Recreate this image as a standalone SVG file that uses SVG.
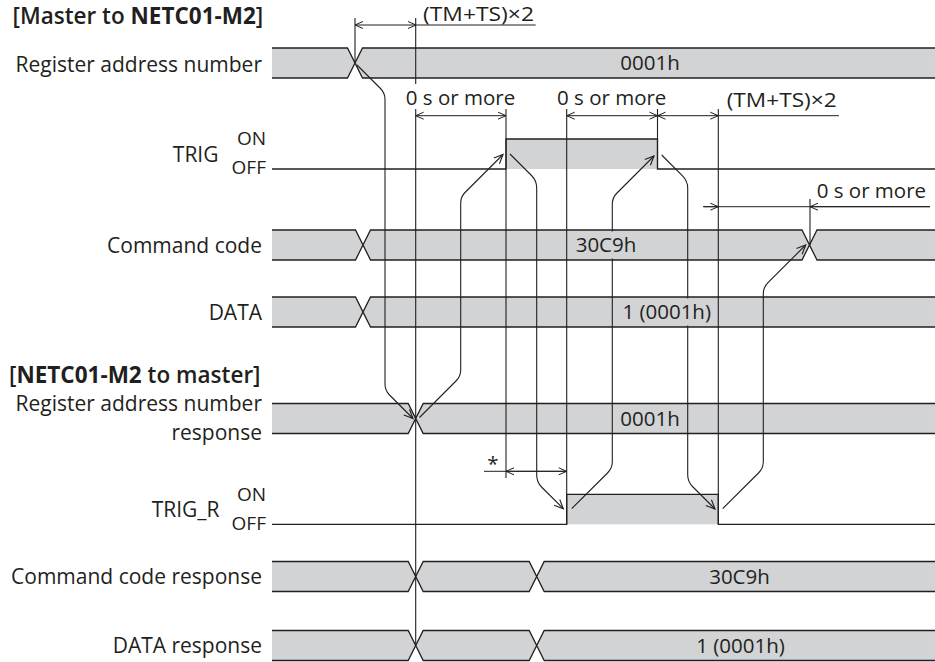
<svg xmlns="http://www.w3.org/2000/svg" width="935" height="662" viewBox="0 0 935 662">
<style>
text { font-family: "Open Sans", "Liberation Sans", sans-serif; fill: #231f20; font-size: 21px; }
.lbl { text-anchor: end; }
.mid { text-anchor: middle; }
.val { font-size: 20.5px; text-anchor: middle; }
.dl { font-size: 20.5px; }
.oo { font-size: 19px; text-anchor: end; }
.ttl { font-size: 22.5px; font-weight: 600; }
.b { font-weight: 700; }
.band { fill: #d1d3d4; stroke: none; }
.edge { fill: none; stroke: #231f20; stroke-width: 1.3; }
.vl { fill: none; stroke: #231f20; stroke-width: 1.1; }
.conn { fill: none; stroke: #231f20; stroke-width: 1.1; marker-end: url(#ah); }
.dim { fill: none; stroke: #231f20; stroke-width: 1; }
.dm2 { fill: none; stroke: #231f20; stroke-width: 1; marker-start: url(#dh); marker-end: url(#dh); }
.dme { fill: none; stroke: #231f20; stroke-width: 1; marker-end: url(#dh); }
.dms { fill: none; stroke: #231f20; stroke-width: 1; marker-start: url(#dh); }
.mask { fill: #d1d3d4; stroke: none; }
</style>
<defs>
<marker id="ah" markerUnits="userSpaceOnUse" orient="auto" overflow="visible" markerWidth="1" markerHeight="1" refX="0" refY="0">
<path d="M-9,-4 L0,0 L-9,4" fill="none" stroke="#231f20" stroke-width="1.1"/>
</marker>
<marker id="dh" markerUnits="userSpaceOnUse" orient="auto-start-reverse" overflow="visible" markerWidth="1" markerHeight="1" refX="0" refY="0">
<path d="M-8,-3.5 L0,0 L-8,3.5" fill="none" stroke="#231f20" stroke-width="1"/>
</marker>
</defs>

<text class="ttl" x="12.5" y="24">[Master to <tspan class="b">NETC01-M2</tspan>]</text>
<text class="ttl" x="9" y="383">[<tspan class="b">NETC01-M2</tspan> to master]</text>

<!-- signal rows -->
<g id="reg-addr">
<polygon class="band" points="272,48 347.5,48 355,63 347.5,78 272,78"/>
<polygon class="band" points="362.5,48 935,48 935,78 362.5,78 355,63"/>
<path class="edge" d="M272,48 H347.5 L362.5,78 H935 M272,78 H347.5 L362.5,48 H935"/>
<text class="lbl" x="262" y="71.5">Register address number</text>
</g>

<g id="trig">
<rect class="band" x="506" y="139" width="151.5" height="30"/>
<path class="edge" d="M272,169 H506 V139 H657.5 V169 H935"/>
<text class="lbl" x="218.5" y="161.7">TRIG</text>
<text class="oo" x="266" y="144.8">ON</text>
<text class="oo" x="266" y="174.3">OFF</text>
</g>

<g id="cmd-code">
<polygon class="band" points="272,230 355.5,230 363,245 355.5,260 272,260"/>
<polygon class="band" points="370.5,230 802,230 809.5,245 802,260 370.5,260 363,245"/>
<polygon class="band" points="817,230 935,230 935,260 817,260 809.5,245"/>
<path class="edge" d="M272,230 H355.5 L370.5,260 H802 L817,230 H935 M272,260 H355.5 L370.5,230 H802 L817,260 H935"/>
<text class="lbl" x="262" y="252.5">Command code</text>
</g>

<g id="data">
<polygon class="band" points="272,297 355.5,297 363,312 355.5,327 272,327"/>
<polygon class="band" points="370.5,297 935,297 935,327 370.5,327 363,312"/>
<path class="edge" d="M272,297 H355.5 L370.5,327 H935 M272,327 H355.5 L370.5,297 H935"/>
<text class="lbl" x="262" y="319.5">DATA</text>
</g>

<g id="reg-addr-resp">
<polygon class="band" points="272,403.5 408.2,403.5 415.7,418.5 408.2,433.5 272,433.5"/>
<polygon class="band" points="423.2,403.5 935,403.5 935,433.5 423.2,433.5 415.7,418.5"/>
<path class="edge" d="M272,403.5 H408.2 L423.2,433.5 H935 M272,433.5 H408.2 L423.2,403.5 H935"/>
<text class="lbl" x="262" y="411.3">Register address number</text>
<text class="lbl" x="262" y="440.3">response</text>
</g>

<g id="trig-r">
<rect class="band" x="566.7" y="494.3" width="151.6" height="30"/>
<path class="edge" d="M272,524.3 H566.7 V494.3 H718.3 V524.3 H935"/>
<text class="lbl" x="219.5" y="517.3">TRIG_R</text>
<text class="oo" x="266" y="500.7">ON</text>
<text class="oo" x="266" y="530">OFF</text>
</g>

<g id="cmd-code-resp">
<polygon class="band" points="272,561.5 408.2,561.5 415.7,576.5 408.2,591.5 272,591.5"/>
<polygon class="band" points="423.2,561.5 529.2,561.5 536.7,576.5 529.2,591.5 423.2,591.5 415.7,576.5"/>
<polygon class="band" points="544.2,561.5 935,561.5 935,591.5 544.2,591.5 536.7,576.5"/>
<path class="edge" d="M272,561.5 H408.2 L423.2,591.5 H529.2 L544.2,561.5 H935 M272,591.5 H408.2 L423.2,561.5 H529.2 L544.2,591.5 H935"/>
<text class="lbl" x="262" y="583.5">Command code response</text>
</g>

<g id="data-resp">
<polygon class="band" points="272,630.5 408.2,630.5 415.7,645.5 408.2,660.5 272,660.5"/>
<polygon class="band" points="423.2,630.5 529.2,630.5 536.7,645.5 529.2,660.5 423.2,660.5 415.7,645.5"/>
<polygon class="band" points="544.2,630.5 935,630.5 935,660.5 544.2,660.5 536.7,645.5"/>
<path class="edge" d="M272,630.5 H408.2 L423.2,660.5 H529.2 L544.2,630.5 H935 M272,660.5 H408.2 L423.2,630.5 H529.2 L544.2,660.5 H935"/>
<text class="lbl" x="262" y="652.5">DATA response</text>
</g>

<!-- connectors: timing reference lines, dimensions and cause arrows -->
<g id="connectors">
<path class="vl" d="M355,18 V63 M415.7,18 V84 M415.7,109 V645.5 M506,109 V478 M566.7,109 V524.3 M657.5,109 V169 M718.3,109 V524.3 M810,199 V245"/>

<path class="dm2" d="M355,25 H416"/>
<path class="dim" d="M416,25 H535.7"/>
<path class="dm2" d="M415.7,115.7 H506"/>
<path class="dm2" d="M566.7,115.7 H657.5"/>
<path class="dm2" d="M657.5,115.7 H718.3"/>
<path class="dim" d="M718.3,115.7 H839"/>
<path class="dim" d="M703.3,206.7 H930"/>
<path class="dme" d="M703.3,206.7 H718.3"/>
<path class="dms" d="M810,206.7 H930"/>
<path class="dme" d="M484,471.3 H566.7"/>
<path class="dms" d="M506,471.3 H566.7"/>

<path class="conn" d="M357,65 L380.5,88.5 Q385,93 385,99.5 V384 Q385,390.5 389.5,395 L413,418.5"/>
<path class="conn" d="M419.5,417.5 L456,381 Q460.7,376.3 460.7,370 V203 Q460.7,196.8 465,192.5 L503,154.5"/>
<path class="conn" d="M510,154 L531.5,175.5 Q536.7,180.7 536.7,188 V475 Q536.7,482 541.5,487 L563.3,508.7"/>
<path class="conn" d="M571.7,508.7 L607.5,473 Q612.3,468.1 612.3,462 V204 Q612.3,197.7 617,193 L654,156"/>
<path class="conn" d="M661.7,155 L682.5,175.8 Q687.7,181 687.7,188 V475 Q687.7,481.7 692.5,486.5 L715,509"/>
<path class="conn" d="M722.7,508.7 L758.5,473 Q763.3,468.1 763.3,462 V294 Q763.3,287.4 768,282.7 L805.7,245"/>
</g>

<rect class="mask" x="572" y="231.5" width="68" height="27"/>
<rect class="mask" x="618" y="298.5" width="97" height="27"/>

<g id="values">
<text class="val" x="650" y="70">0001h</text>
<text class="val" x="606" y="252">30C9h</text>
<text class="val" x="666.7" y="319">1 (0001h)</text>
<text class="val" x="650" y="425.5">0001h</text>
<text class="val" x="739.5" y="583.5">30C9h</text>
<text class="val" x="740.5" y="652.5">1 (0001h)</text>
</g>

<g id="dimension-labels">
<text class="dl" x="423" y="21" textLength="111" lengthAdjust="spacingAndGlyphs">(TM+TS)×2</text>
<text class="dl mid" x="460.5" y="105">0 s or more</text>
<text class="dl mid" x="611.7" y="105">0 s or more</text>
<text class="dl" x="726.7" y="107" textLength="110" lengthAdjust="spacingAndGlyphs">(TM+TS)×2</text>
<text class="dl" x="816.7" y="198.3">0 s or more</text>
<text class="dl mid" x="493" y="471">*</text>
</g>
</svg>
